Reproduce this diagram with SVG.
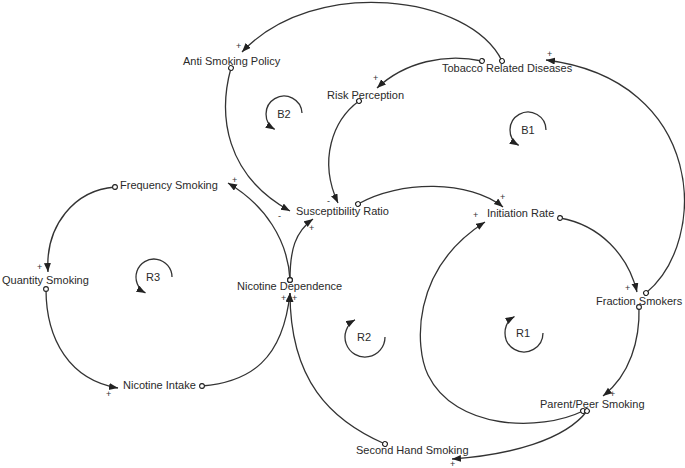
<svg xmlns="http://www.w3.org/2000/svg" width="685" height="468" viewBox="0 0 685 468">
<style>
text{font-family:"Liberation Sans",Arial,Helvetica,sans-serif;fill:#2a2a2a}
.n{font-size:11px}
.s{font-size:9px;fill:#333}
.l{font-size:11px;text-anchor:middle}
.c{fill:none;stroke:#333;stroke-width:1.3;marker-start:url(#tail);marker-end:url(#arr)}
.loop{fill:none;stroke:#333;stroke-width:1.3;marker-end:url(#arr)}
</style>
<defs>
<marker id="arr" markerUnits="userSpaceOnUse" markerWidth="10" markerHeight="8" refX="9" refY="3.5" orient="auto">
<path d="M0,0 L9,3.5 L0,7 z" fill="#222"/>
</marker>
<marker id="tail" markerUnits="userSpaceOnUse" markerWidth="8" markerHeight="8" refX="4" refY="4" orient="auto">
<circle cx="4" cy="4" r="2.4" fill="#fff" stroke="#222" stroke-width="1.1"/>
</marker>
</defs>
<rect width="685" height="468" fill="#fff"/>
<g id="connectors">
<path class="c" d="M502,61 C470,-5 315,-25 242,52"/>
<path class="c" d="M482,61 C445,53 405,62 377,88"/>
<path class="c" d="M231,68 C218,115 225,175 290,211"/>
<path class="c" d="M359,101 C333,120 318,160 338,203"/>
<path class="c" d="M358,204 C400,180 470,180 503,207"/>
<path class="c" d="M560,218 C600,225 628,255 637,292"/>
<path class="c" d="M646,293 C710,240 705,80 546,60"/>
<path class="c" d="M639,307 C640,340 630,375 603,396"/>
<path class="c" d="M583,411 C540,432 455,430 428,375 C415,348 410,270 485,222"/>
<path class="c" d="M587,411 C565,440 510,455 452,459"/>
<path class="c" d="M385,444 C330,420 290,380 290,293"/>
<path class="c" d="M202,386 C250,382 283,360 290,293"/>
<path class="c" d="M290,280 C288,240 265,205 228,183"/>
<path class="c" d="M290,280 C290,250 295,232 313,219"/>
<path class="c" d="M115,187 C75,190 45,225 48,272"/>
<path class="c" d="M46,289 C46,340 70,380 118,388"/>
</g>
<g id="polarities">
<text class="s" x="236" y="49">+</text>
<text class="s" x="373" y="81">+</text>
<text class="s" x="547" y="57">+</text>
<text class="s" x="278" y="219">-</text>
<text class="s" x="327" y="204">-</text>
<text class="s" x="309" y="231">+</text>
<text class="s" x="232" y="183">+</text>
<text class="s" x="500" y="200">+</text>
<text class="s" x="473" y="218">+</text>
<text class="s" x="625" y="291">+</text>
<text class="s" x="610" y="397">+</text>
<text class="s" x="450" y="467">+</text>
<text class="s" x="281" y="301">+</text>
<text class="s" x="292" y="301">+</text>
<text class="s" x="37" y="270">+</text>
<text class="s" x="106" y="397">+</text>
</g>
<g id="loops">
<g id="loop-B2"><path class="loop" d="M302,113 A18,18 0 1 0 274.7,129.4"/><text class="l" x="284" y="118">B2</text></g>
<g id="loop-B1"><path class="loop" d="M546,130 A18,18 0 1 0 518.7,145.4"/><text class="l" x="528" y="134">B1</text></g>
<g id="loop-R3"><path class="loop" d="M172,277 A18,18 0 1 0 145.5,292.9"/><text class="l" x="153" y="281">R3</text></g>
<g id="loop-R2"><path class="loop" d="M385,337 A20,20 0 1 1 355,319.7"/><text class="l" x="364" y="341">R2</text></g>
<g id="loop-R1"><path class="loop" d="M543,333 A19,19 0 1 1 514.5,316.5"/><text class="l" x="523" y="337">R1</text></g>
</g>
<g id="anti-smoking-policy"><text class="n" x="183" y="65">Anti Smoking Policy</text></g>
<g id="tobacco-related-diseases"><text class="n" x="442" y="72">Tobacco Related Diseases</text></g>
<g id="risk-perception"><text class="n" x="327" y="99">Risk Perception</text></g>
<g id="frequency-smoking"><text class="n" x="120" y="189">Frequency Smoking</text></g>
<g id="susceptibility-ratio"><text class="n" x="296" y="215">Susceptibility Ratio</text></g>
<g id="initiation-rate"><text class="n" x="487" y="217">Initiation Rate</text></g>
<g id="quantity-smoking"><text class="n" x="2" y="284">Quantity Smoking</text></g>
<g id="nicotine-dependence"><text class="n" x="237" y="290">Nicotine Dependence</text></g>
<g id="fraction-smokers"><text class="n" x="596" y="305">Fraction Smokers</text></g>
<g id="nicotine-intake"><text class="n" x="123" y="389">Nicotine Intake</text></g>
<g id="parent-peer-smoking"><text class="n" x="540" y="408">Parent/Peer Smoking</text></g>
<g id="second-hand-smoking"><text class="n" x="356" y="454">Second Hand Smoking</text></g>
</svg>
